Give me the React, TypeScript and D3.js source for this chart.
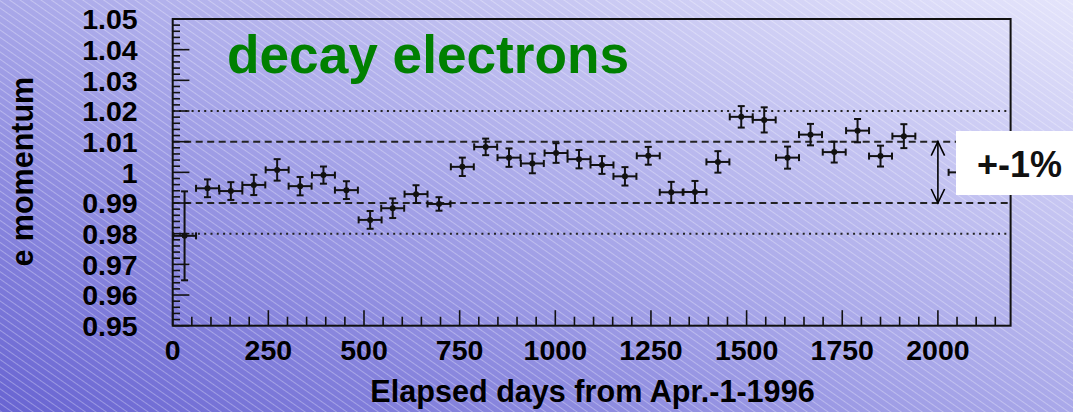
import React from "react";
import * as d3 from "d3";

// Bin centres (elapsed days) and measured relative electron momentum
const days = [31, 91, 152, 212, 273, 333, 394, 454, 516, 575, 636, 696, 757, 818, 879, 940,
  1002, 1062, 1122, 1182, 1243, 1303, 1365, 1425, 1486, 1546, 1607, 1667, 1729, 1790, 1850, 1911, 2058];
const momentum = [0.9793, 0.9948, 0.9939, 0.9959, 1.0008, 0.9955, 0.9991, 0.9942, 0.9845, 0.9883,
  0.9929, 0.9897, 1.0018, 1.0083, 1.0048, 1.0029, 1.0063, 1.0043, 1.0024, 0.9987, 1.0054, 0.9935,
  0.9936, 1.0034, 1.0181, 1.0171, 1.0048, 1.0123, 1.0066, 1.0136, 1.0053, 1.0118, 1.0];
const momentumErr = [0.0145, 0.0029, 0.0029, 0.0033, 0.0035, 0.0030, 0.0028, 0.0029, 0.0029, 0.0032,
  0.0029, 0.0022, 0.0030, 0.0027, 0.0030, 0.0032, 0.0032, 0.0030, 0.0029, 0.0030, 0.0029, 0.0034,
  0.0036, 0.0035, 0.0035, 0.0041, 0.0036, 0.0035, 0.0034, 0.0038, 0.0034, 0.0039, 0.0033];
const binHalfWidth = 30;

const xTickValues = [0, 250, 500, 750, 1000, 1250, 1500, 1750, 2000];
const yTickValues = [0.95, 0.96, 0.97, 0.98, 0.99, 1.0, 1.01, 1.02, 1.03, 1.04, 1.05];
const yTickLabels = ["0.95", "0.96", "0.97", "0.98", "0.99", "1", "1.01", "1.02", "1.03", "1.04", "1.05"];
const dottedLevels = [0.98, 1.02];
const dashedLevels = [0.99, 1.01];
const bandDay = 2000;
const bandLow = 0.99;
const bandHigh = 1.01;

const FONT = "'Liberation Sans', Arial, Helvetica, sans-serif";

export default function App() {
  const W = 1073;
  const H = 412;
  const left = 172.7, right = 1010.6, top = 19, bottom = 325.7;
  const x = d3.scaleLinear().domain([0, 2190]).range([left, right]);
  const y = d3.scaleLinear().domain([0.95, 1.05]).range([bottom, top]);

  const xMinor = d3.range(0, 2190, 50);
  const yMinor = d3.range(0, 51).map((i) => 0.95 + i * 0.002);

  const ink = "#111";
  const cap = 3.5;

  return (
    <svg width={W} height={H} style={{ position: "absolute", left: 0, top: 0 }}>
      <defs>
        <linearGradient id="bg" x1="0" y1="1" x2="1" y2="0">
          <stop offset="0" stopColor="#6864d2" />
          <stop offset="0.5" stopColor="#a9a8e9" />
          <stop offset="1" stopColor="#e4e4fb" />
        </linearGradient>
        <pattern id="stripes" width="10" height="6" patternUnits="userSpaceOnUse" patternTransform="rotate(35)">
          <line x1="0" y1="0.5" x2="10" y2="0.5" stroke="#ffffff" strokeOpacity="0.3" strokeWidth="1" />
        </pattern>
      </defs>
      <rect x={0} y={0} width={W} height={H} fill="url(#bg)" />
      <rect x={0} y={0} width={W} height={H} fill="url(#stripes)" />

      {/* reference levels */}
      {dottedLevels.map((v) => (
        <line key={"dot" + v} x1={left} x2={right} y1={y(v)} y2={y(v)} stroke="#222" strokeWidth={2} strokeDasharray="2,4.3" />
      ))}
      {dashedLevels.map((v) => (
        <line key={"dash" + v} x1={left} x2={right} y1={y(v)} y2={y(v)} stroke="#222" strokeWidth={2} strokeDasharray="7,4.5" />
      ))}

      {/* frame */}
      <rect x={left} y={top} width={right - left} height={bottom - top} fill="none" stroke="#111" strokeWidth={2} />

      {/* x ticks */}
      {xMinor.map((d) => {
        const major = d % 250 === 0;
        return (
          <line key={"xt" + d} x1={x(d)} x2={x(d)} y1={bottom} y2={bottom - (major ? 15.5 : 9)} stroke="#111" strokeWidth={1.6} />
        );
      })}
      {/* y ticks */}
      {yMinor.map((v, i) => {
        const major = i % 5 === 0;
        return (
          <line key={"yt" + i} x1={left} x2={left + (major ? 16.7 : 7.3)} y1={y(v)} y2={y(v)} stroke="#111" strokeWidth={1.6} />
        );
      })}

      {/* tick labels */}
      {xTickValues.map((d) => (
        <text key={"xl" + d} x={x(d)} y={360} textAnchor="middle" fontFamily={FONT} fontWeight="bold" fontSize={28.5} fill="#000">
          {d}
        </text>
      ))}
      {yTickValues.map((v, i) => (
        <text key={"yl" + v} x={137.7} y={y(v) + 10.2} textAnchor="end" fontFamily={FONT} fontWeight="bold" fontSize={28.5} fill="#000">
          {yTickLabels[i]}
        </text>
      ))}

      {/* axis titles */}
      <text x={592.5} y={402} textAnchor="middle" fontFamily={FONT} fontWeight="bold" fontSize={30.6} fill="#000">
        Elapsed days from Apr.-1-1996
      </text>
      <text transform="translate(33.3,171.7) rotate(-90)" textAnchor="middle" fontFamily={FONT} fontWeight="bold" fontSize={30.5} fill="#000">
        e momentum
      </text>

      {/* plot title */}
      <text x={227} y={73} fontFamily={FONT} fontWeight="bold" fontSize={53.2} fill="#008000">
        decay electrons
      </text>

      {/* data points with error bars */}
      {days.map((d, i) => {
        const cx = x(d);
        const cy = y(momentum[i]);
        const x0 = x(Math.max(0, d - binHalfWidth));
        const x1 = x(d + binHalfWidth);
        const y0 = y(momentum[i] - momentumErr[i]);
        const y1 = y(momentum[i] + momentumErr[i]);
        return (
          <g key={"p" + i} stroke={ink} strokeWidth={2}>
            <line x1={x0} x2={x1} y1={cy} y2={cy} />
            <line x1={cx} x2={cx} y1={y0} y2={y1} />
            <line x1={x0} x2={x0} y1={cy - cap} y2={cy + cap} />
            <line x1={x1} x2={x1} y1={cy - cap} y2={cy + cap} />
            <line x1={cx - cap} x2={cx + cap} y1={y0} y2={y0} />
            <line x1={cx - cap} x2={cx + cap} y1={y1} y2={y1} />
            <circle cx={cx} cy={cy} r={3} fill={ink} stroke="none" />
          </g>
        );
      })}

      {/* ±1% band marker */}
      <g stroke="#000" strokeWidth={1.6} fill="none">
        <line x1={x(bandDay)} x2={x(bandDay)} y1={y(bandHigh)} y2={y(bandLow)} />
        <polyline points={`${x(bandDay) - 6.7},${y(bandHigh) + 14} ${x(bandDay)},${y(bandHigh)} ${x(bandDay) + 6.7},${y(bandHigh) + 14}`} />
        <polyline points={`${x(bandDay) - 6.7},${y(bandLow) - 14} ${x(bandDay)},${y(bandLow)} ${x(bandDay) + 6.7},${y(bandLow) - 14}`} />
      </g>
      <rect x={956} y={131} width={130} height={64} fill="#ffffff" />
      <text x={977} y={177} fontFamily={FONT} fontWeight="bold" fontSize={36} fill="#111">
        +-1%
      </text>
    </svg>
  );
}
